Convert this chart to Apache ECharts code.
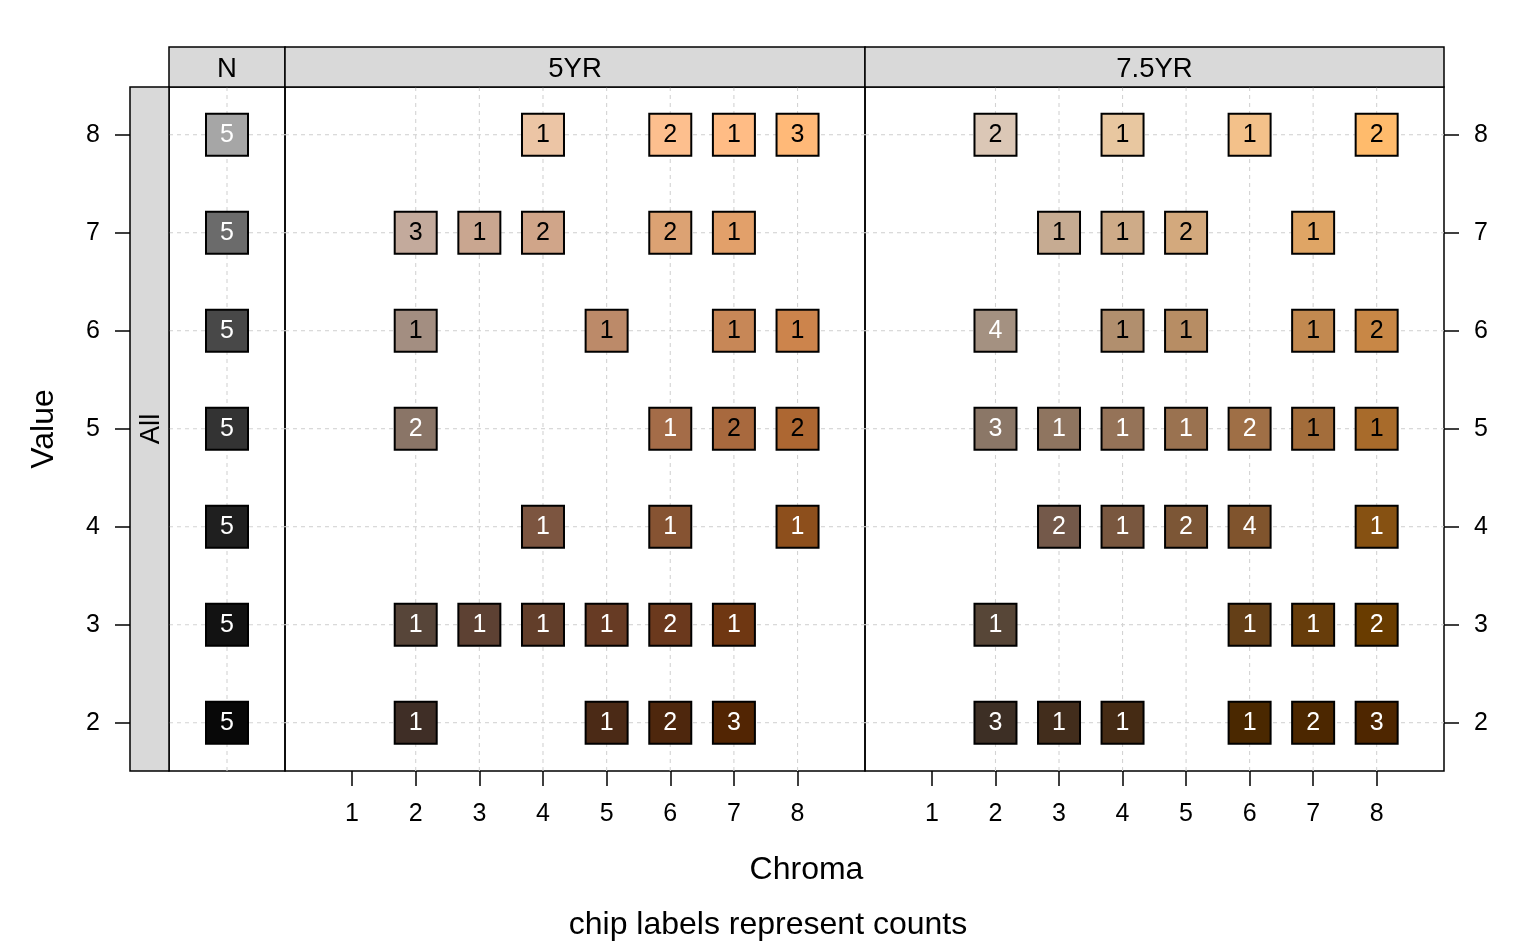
<!DOCTYPE html>
<html>
<head>
<meta charset="utf-8">
<script src="https://cdn.jsdelivr.net/npm/echarts@6/dist/echarts.min.js"></script>
<style>
html,body{margin:0;padding:0;background:#fff;}
#chart{width:1536px;height:950px;}
</style>
</head>
<body>
<div id="chart"></div>
<script>
// ---------------- DATA ----------------
const panels = ['N', '5YR', '7.5YR'];
const valueTicks = [2, 3, 4, 5, 6, 7, 8];
const chromaTicks = [1, 2, 3, 4, 5, 6, 7, 8];
const gridValues = [2, 3, 4, 5, 6, 7, 8];
const gridChroma = [2, 3, 4, 5, 6, 7, 8];

// Neutral (N) chips: chroma 0
const nValue  = [8, 7, 6, 5, 4, 3, 2];
const nCount  = [5, 5, 5, 5, 5, 5, 5];

// 5YR chips
const yr5Value  = [8,8,8,8, 7,7,7,7,7, 6,6,6,6, 5,5,5,5, 4,4,4, 3,3,3,3,3,3, 2,2,2,2];
const yr5Chroma = [4,6,7,8, 2,3,4,6,7, 2,5,7,8, 2,6,7,8, 4,6,8, 2,3,4,5,6,7, 2,5,6,7];
const yr5Count  = [1,2,1,3, 3,1,2,2,1, 1,1,1,1, 2,1,2,2, 1,1,1, 1,1,1,1,2,1, 1,1,2,3];

// 7.5YR chips
const yr75Value  = [8,8,8,8, 7,7,7,7, 6,6,6,6,6, 5,5,5,5,5,5,5, 4,4,4,4,4, 3,3,3,3, 2,2,2,2,2,2];
const yr75Chroma = [2,4,6,8, 3,4,5,7, 2,4,5,7,8, 2,3,4,5,6,7,8, 3,4,5,6,8, 2,6,7,8, 2,3,4,6,7,8];
const yr75Count  = [2,1,1,2, 1,1,2,1, 4,1,1,1,2, 3,1,1,1,2,1,1, 2,1,2,4,1, 1,1,1,2, 3,1,1,1,2,3];

// Munsell chip colours (sRGB approximations)
const chipColor = {
  'N 8':'#a6a6a6','N 7':'#6b6b6b','N 6':'#484848','N 5':'#333333','N 4':'#1f1f1f','N 3':'#121212','N 2':'#080808',
  '5YR 8/4':'#ecc5a5','5YR 8/6':'#fdbf8e','5YR 8/7':'#ffbc85','5YR 8/8':'#ffb978',
  '5YR 7/2':'#c3aa9c','5YR 7/3':'#c9a690','5YR 7/4':'#d0a589','5YR 7/6':'#dca273','5YR 7/7':'#e2a06a',
  '5YR 6/2':'#a38e81','5YR 6/5':'#bc8a69','5YR 6/7':'#c78757','5YR 6/8':'#cc844c',
  '5YR 5/2':'#8a7567','5YR 5/6':'#a46c48','5YR 5/7':'#a8693e','5YR 5/8':'#ad6732',
  '5YR 4/4':'#7c5540','5YR 4/6':'#865332','5YR 4/8':'#8d4f1c',
  '5YR 3/2':'#574539','5YR 3/3':'#5d4133','5YR 3/4':'#623e2a','5YR 3/5':'#673b24','5YR 3/6':'#6b391d','5YR 3/7':'#6f3712',
  '5YR 2/2':'#3f2e26','5YR 2/5':'#4b2a16','5YR 2/6':'#4e270d','5YR 2/7':'#522503',
  '7.5YR 8/2':'#dbc7b6','7.5YR 8/4':'#e8c7a0','7.5YR 8/6':'#f3c18a','7.5YR 8/8':'#ffbb6c',
  '7.5YR 7/3':'#c6ab92','7.5YR 7/4':'#ceab88','7.5YR 7/5':'#d3a97d','7.5YR 7/7':'#dfa565',
  '7.5YR 6/2':'#a49181','7.5YR 6/4':'#b18f6e','7.5YR 6/5':'#b78d64','7.5YR 6/7':'#c28950','7.5YR 6/8':'#c88746',
  '7.5YR 5/2':'#8b7767','7.5YR 5/3':'#8f7560','7.5YR 5/4':'#957358','7.5YR 5/5':'#9a7250','7.5YR 5/6':'#9f6f46','7.5YR 5/7':'#a36d3b','7.5YR 5/8':'#a86b2b',
  '7.5YR 4/3':'#74594a','7.5YR 4/4':'#79573f','7.5YR 4/5':'#7c5636','7.5YR 4/6':'#80542d','7.5YR 4/8':'#865112',
  '7.5YR 3/2':'#574637','7.5YR 3/6':'#643f17','7.5YR 3/7':'#673d0b','7.5YR 3/8':'#693c00',
  '7.5YR 2/2':'#3d2f25','7.5YR 2/3':'#422d1c','7.5YR 2/4':'#452b14','7.5YR 2/6':'#4a2800','7.5YR 2/7':'#4c2700','7.5YR 2/8':'#4e2600'
};
// chips whose count label is drawn in black (all others white)
const blackLabel = new Set([
  '5YR 8/4','5YR 8/6','5YR 8/7','5YR 8/8','5YR 7/2','5YR 7/3','5YR 7/4','5YR 7/6','5YR 7/7',
  '5YR 6/2','5YR 6/5','5YR 6/7','5YR 6/8','5YR 5/7','5YR 5/8',
  '7.5YR 8/2','7.5YR 8/4','7.5YR 8/6','7.5YR 8/8','7.5YR 7/3','7.5YR 7/4','7.5YR 7/5','7.5YR 7/7',
  '7.5YR 6/4','7.5YR 6/5','7.5YR 6/7','7.5YR 6/8','7.5YR 5/7','7.5YR 5/8'
]);

// ---------------- CHART ----------------
const FONT = '"Liberation Sans", Arial, Helvetica, sans-serif';
const chart = echarts.init(document.getElementById('chart'));

function chipItems(hue, values, chromas, counts) {
  return values.map((v, i) => {
    const c = chromas ? chromas[i] : 0;
    const key = hue === 'N' ? ('N ' + v) : (hue + ' ' + v + '/' + c);
    return {
      value: [c, v, counts[i]],
      itemStyle: { color: chipColor[key] },
      label: { color: blackLabel.has(key) ? '#000' : '#fff' }
    };
  });
}

const Y_MIN = 1.507, Y_MAX = 8.487;
const X_MIN = -0.054, X_MAX = 9.06;
const TOP = 87, HEIGHT = 684;
const gridBoxes = [
  { left: 169, width: 116 },
  { left: 285, width: 580 },
  { left: 865, width: 579 }
];

const grids = gridBoxes.map(g => ({
  left: g.left, top: TOP, width: g.width, height: HEIGHT,
  show: true, borderColor: '#000', borderWidth: 1.5, backgroundColor: 'transparent',
  outerBoundsMode: 'none', containLabel: false
}));

const tickStyle = { color: '#000', width: 1.5 };
const axisFont = { fontSize: 25, color: '#000', fontFamily: FONT };
function xAxisFor(idx) {
  return { gridIndex: idx, type: 'value', min: X_MIN, max: X_MAX,
    axisLine: { show: false, onZero: false }, splitLine: { show: false },
    axisTick: { show: true, inside: false, length: 15, lineStyle: tickStyle, customValues: chromaTicks },
    axisLabel: Object.assign({ show: true, margin: 31, customValues: chromaTicks }, axisFont) };
}
const xAxes = [
  { gridIndex: 0, type: 'value', min: -1, max: 1, show: false, axisLine: { onZero: false } },
  xAxisFor(1),
  xAxisFor(2)
];
const yAxes = [
  { gridIndex: 0, type: 'value', min: Y_MIN, max: Y_MAX, position: 'left', offset: 39,
    axisLine: { show: false, onZero: false }, splitLine: { show: false },
    axisTick: { show: true, inside: false, length: 15, lineStyle: tickStyle, customValues: valueTicks },
    axisLabel: Object.assign({ show: true, margin: 30, customValues: valueTicks, padding: [3, 0, 0, 0] }, axisFont) },
  { gridIndex: 1, type: 'value', min: Y_MIN, max: Y_MAX, show: false, axisLine: { onZero: false } },
  { gridIndex: 2, type: 'value', min: Y_MIN, max: Y_MAX, position: 'right',
    axisLine: { show: false, onZero: false }, splitLine: { show: false },
    axisTick: { show: true, inside: false, length: 15, lineStyle: tickStyle, customValues: valueTicks },
    axisLabel: Object.assign({ show: true, margin: 30, customValues: valueTicks, padding: [3, 0, 0, 0] }, axisFont) }
];

// dashed reference grid lines, drawn as line series behind the chips
const gridLineStyle = { color: '#d3d3d3', width: 1.1, type: [4, 4] };
function gridLines(idx, xs, xmin, xmax) {
  const out = [];
  gridValues.forEach(v => out.push({
    type: 'line', xAxisIndex: idx, yAxisIndex: idx, z: 1, silent: true, symbol: 'none',
    animation: false, lineStyle: gridLineStyle, data: [[xmin, v], [xmax, v]]
  }));
  xs.forEach(c => out.push({
    type: 'line', xAxisIndex: idx, yAxisIndex: idx, z: 1, silent: true, symbol: 'none',
    animation: false, lineStyle: gridLineStyle, data: [[c, Y_MIN], [c, Y_MAX]]
  }));
  return out;
}

function chipSeries(idx, items) {
  return {
    type: 'scatter', xAxisIndex: idx, yAxisIndex: idx, z: 5,
    symbol: 'rect', symbolSize: 42, animation: false,
    itemStyle: { borderColor: '#000', borderWidth: 2, opacity: 1 },
    label: { show: true, position: 'inside', fontSize: 25, fontFamily: FONT,
      formatter: p => String(p.value[2]) },
    emphasis: { disabled: true },
    data: items
  };
}

const stripStyle = { fill: '#d9d9d9', stroke: '#000', lineWidth: 1.5 };
const stripText = (x, y, t, rot) => ({
  type: 'text', x: x, y: y, rotation: rot || 0, z: 20,
  style: { text: t, fill: '#000', font: '27.5px ' + FONT, align: 'center', verticalAlign: 'middle' }
});

chart.setOption({
  backgroundColor: '#fff',
  animation: false,
  grid: grids,
  xAxis: xAxes,
  yAxis: yAxes,
  series: [].concat(
    gridLines(0, [0], -1, 1),
    gridLines(1, gridChroma, X_MIN, X_MAX),
    gridLines(2, gridChroma, X_MIN, X_MAX),
    [
      chipSeries(0, chipItems('N', nValue, null, nCount)),
      chipSeries(1, chipItems('5YR', yr5Value, yr5Chroma, yr5Count)),
      chipSeries(2, chipItems('7.5YR', yr75Value, yr75Chroma, yr75Count))
    ]
  ),
  graphic: [
    { type: 'rect', shape: { x: 169, y: 47, width: 116, height: 40 }, style: stripStyle, z: 10 },
    { type: 'rect', shape: { x: 285, y: 47, width: 580, height: 40 }, style: stripStyle, z: 10 },
    { type: 'rect', shape: { x: 865, y: 47, width: 579, height: 40 }, style: stripStyle, z: 10 },
    { type: 'rect', shape: { x: 130, y: 87, width: 39, height: 684 }, style: stripStyle, z: 10 },
    stripText(227, 69, panels[0]),
    stripText(575, 69, panels[1]),
    stripText(1154.5, 69, panels[2]),
    stripText(151, 429, 'All', Math.PI / 2),
    { type: 'text', x: 44, y: 429, rotation: Math.PI / 2, z: 20,
      style: { text: 'Value', fill: '#000', font: '32px ' + FONT, align: 'center', verticalAlign: 'middle' } },
    { type: 'text', x: 806.5, y: 870, z: 20,
      style: { text: 'Chroma', fill: '#000', font: '32px ' + FONT, align: 'center', verticalAlign: 'middle' } },
    { type: 'text', x: 768, y: 925, z: 20,
      style: { text: 'chip labels represent counts', fill: '#000', font: '32px ' + FONT, align: 'center', verticalAlign: 'middle' } }
  ]
});
</script>
</body>
</html>
